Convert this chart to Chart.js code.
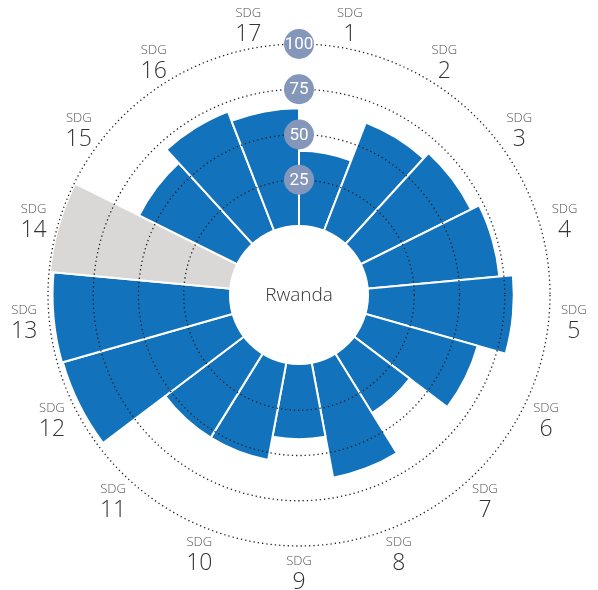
<!DOCTYPE html>
<html>
<head>
<meta charset="utf-8">
<script src="https://cdn.jsdelivr.net/npm/chart.js@4"></script>
<style>
  body { margin: 0; background: #fff; }
</style>
</head>
<body>
<canvas id="sdgChart" width="598" height="590"></canvas>
<script>
const country = "Rwanda";
const goals = ["1","2","3","4","5","6","7","8","9","10","11","12","13","14","15","16","17"];
const scores = [41, 63.5, 67.5, 72.5, 80, 64, 38, 64, 41, 54, 54, 97, 97.5, 99.5, 60, 70, 64.5];
const noData = ["14"];
const tickValues = [25, 50, 75, 100];

const blue = "#1272bb";
const grey = "#d9d8d7";

const labelFont = "'Open Sans', 'Noto Sans', sans-serif";

// white hole in the middle + country name, then tick bubbles and goal labels
const holePlugin = {
  id: "hole",
  afterDatasetsDraw(chart) {
    const r = chart.scales.r;
    const c = chart.ctx;
    c.save();
    c.beginPath();
    c.arc(r.xCenter, r.yCenter, r.getDistanceFromCenterForValue(0), 0, Math.PI * 2);
    c.fillStyle = "#fff";
    c.fill();
    c.fillStyle = "#333";
    c.font = "300 19px " + labelFont;
    c.textAlign = "center";
    c.textBaseline = "middle";
    c.fillText(country, r.xCenter, r.yCenter + 1);
    c.restore();
  },
  afterDraw(chart) {
    const r = chart.scales.r;
    const c = chart.ctx;
    c.save();
    c.textAlign = "center";
    c.textBaseline = "middle";
    tickValues.forEach(v => {
      const y = r.yCenter - r.getDistanceFromCenterForValue(v);
      c.beginPath();
      c.arc(r.xCenter, y, 15, 0, Math.PI * 2);
      c.fillStyle = "#8497bb";
      c.fill();
      c.fillStyle = "#fff";
      c.font = "17px 'Liberation Sans Narrow', 'Roboto', sans-serif";
      c.fillText(String(v), r.xCenter, y + 1);
    });
    goals.forEach((g, i) => {
      const p = r.getPointPosition(i + 0.5, 276);
      c.fillStyle = "#555";
      c.font = "300 13px " + labelFont;
      c.fillText("SDG", p.x, p.y - 10);
      c.fillStyle = "#333";
      c.font = "300 23px " + labelFont;
      c.fillText(g, p.x, p.y + 11);
    });
    c.restore();
  }
};

new Chart(document.getElementById("sdgChart"), {
  type: "polarArea",
  data: {
    labels: goals,
    datasets: [{
      data: scores,
      backgroundColor: goals.map(g => noData.includes(g) ? grey : blue),
      borderColor: "#fff",
      borderWidth: 2
    }]
  },
  options: {
    responsive: false,
    animation: false,
    layout: { padding: { top: 44, bottom: 44, left: 48, right: 48 } },
    plugins: {
      legend: { display: false },
      tooltip: { enabled: false }
    },
    scales: {
      r: {
        min: -38.7,
        max: 100,
        afterBuildTicks: axis => { axis.ticks = tickValues.map(v => ({ value: v })); },
        ticks: { display: false },
        pointLabels: { display: false },
        angleLines: { display: false },
        grid: { circular: true, color: "#222", lineWidth: 1.3, z: 1 },
        border: { dash: [1.3, 3] }
      }
    }
  },
  plugins: [holePlugin]
});
</script>
</body>
</html>
